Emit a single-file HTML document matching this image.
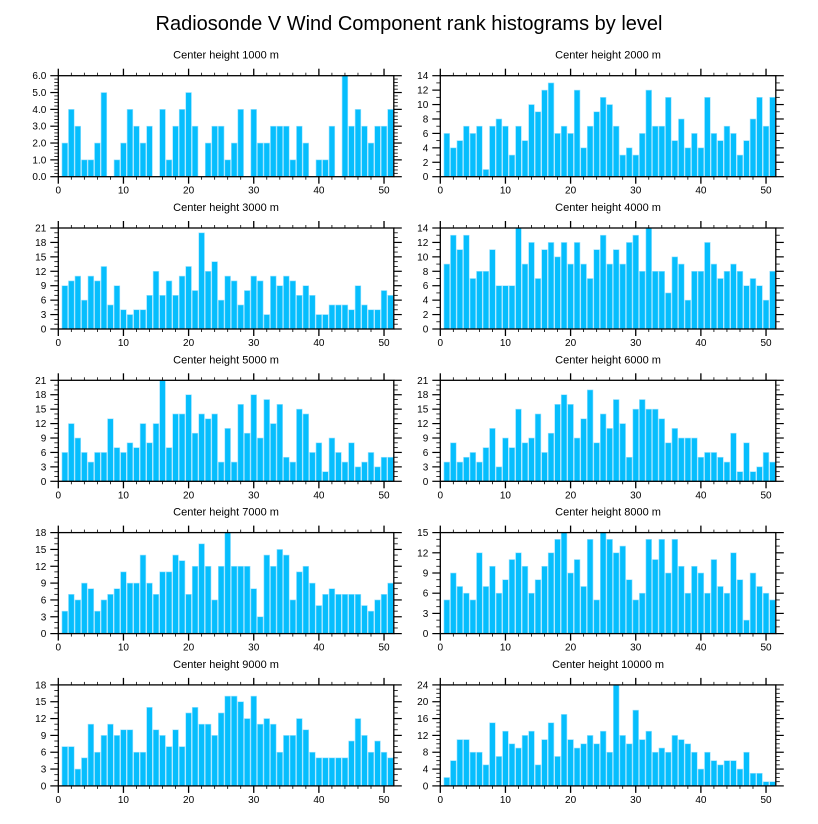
<!DOCTYPE html>
<html><head><meta charset="utf-8"><style>
body{margin:0;background:#fff;}
svg{display:block;font-family:"Liberation Sans",sans-serif;}
</style></head><body>
<svg id="chart" width="818" height="824" viewBox="0 0 818 824" xmlns="http://www.w3.org/2000/svg">
<text x="409" y="30" text-anchor="middle" font-size="20" fill="#000">Radiosonde V Wind Component rank histograms by level</text>
</svg>
<script>
const heights = [1000,2000,3000,4000,5000,6000,7000,8000,9000,10000];
const yMax = [6,14,21,14,21,21,18,15,18,24];
const yStep = [1,2,3,2,3,3,3,3,3,4];
const s1000 = [2,4,3,1,1,2,5,0,1,2,4,3,2,3,0,4,1,3,4,5,3,0,2,3,3,1,2,4,0,4,2,2,3,3,3,1,3,2,0,1,1,3,0,6,3,4,3,2,3,3,4];
const s2000 = [6,4,5,7,6,7,1,7,8,7,3,7,5,10,9,12,13,6,7,6,12,4,7,9,11,10,7,3,4,3,6,12,7,7,11,5,8,4,6,4,11,6,5,7,6,3,5,8,11,7,11];
const s3000 = [9,10,11,6,11,10,13,5,9,4,3,4,4,7,12,7,10,7,11,13,8,20,12,14,6,11,10,5,8,11,10,3,11,9,11,10,7,9,7,3,3,5,5,5,4,9,5,4,4,8,7];
const s4000 = [9,13,11,13,7,8,8,11,6,6,6,14,9,12,7,11,12,10,12,9,12,9,7,11,13,9,11,9,12,13,8,14,8,8,5,10,9,4,8,8,12,9,7,8,9,8,6,7,6,4,8];
const s5000 = [6,12,9,6,4,6,6,13,7,6,8,7,12,8,12,21,7,14,14,18,10,14,13,14,4,11,4,16,10,18,9,17,12,16,5,4,15,14,6,8,2,9,6,4,8,3,4,6,3,5,5];
const s6000 = [4,8,4,5,6,4,7,11,3,9,7,15,8,9,14,6,10,16,18,16,9,13,19,8,14,11,17,12,5,15,17,15,15,13,8,11,9,9,9,5,6,6,5,4,10,2,8,2,3,6,4];
const s7000 = [4,7,6,9,8,4,6,7,8,11,9,9,14,9,7,11,11,14,13,7,12,16,12,6,12,18,12,12,12,8,3,14,12,15,14,6,11,12,9,5,7,8,7,7,7,7,5,4,6,7,9];
const s8000 = [5,9,7,6,5,12,7,10,6,8,11,12,10,6,8,10,12,14,15,9,11,7,14,5,15,14,12,13,8,5,6,14,11,14,9,14,10,6,10,9,6,11,7,6,12,8,2,9,7,6,5];
const s9000 = [7,7,3,5,11,6,9,11,9,10,10,6,6,14,10,9,7,10,7,13,14,11,11,9,13,16,16,15,12,16,11,12,11,6,9,9,12,10,6,5,5,5,5,5,8,12,9,6,8,6,5];
const s10000 = [2,6,11,11,8,8,5,15,7,13,10,9,12,13,5,11,15,7,17,11,9,10,12,10,13,8,24,12,10,18,11,13,8,9,8,12,11,10,8,4,8,6,5,6,6,4,8,3,3,1,1];
const series = [s1000,s2000,s3000,s4000,s5000,s6000,s7000,s8000,s9000,s10000];
const xTicks = [0,10,20,30,40,50];

const svg = document.getElementById('chart');
const NS = 'http://www.w3.org/2000/svg';
function mk(tag, attrs, parent){const e=document.createElementNS(NS,tag);for(const k in attrs)e.setAttribute(k,attrs[k]);(parent||svg).appendChild(e);return e;}
const PW = 335.5, PH = 101, XMAX = 51.5;
for(let p=0;p<10;p++){
  const col=p%2,row=Math.floor(p/2);
  const L = col===0?58.3:440.3, T = 75.7+row*152.3;
  const g = mk('g',{});
  
  
  const xs = v=>L+v/XMAX*PW;
  const ys = v=>T+PH-v/yMax[p]*PH;
  const t = mk('text',{x:L+PW/2,y:T-17,'text-anchor':'middle','font-size':'11',fill:'#000'},g);
  t.textContent='Center height '+heights[p]+' m';
  
  
  const vals=series[p];
  for(let i=0;i<vals.length;i++){
    if(vals[i]<=0) continue;
    const x=i+1;
    const r=mk('rect',{x:xs(x-0.44),y:ys(vals[i]),width:xs(x+0.44)-xs(x-0.44),height:ys(0)-ys(vals[i]),fill:'#06befd',stroke:'#9ee3ff','stroke-width':'0.6'},g);
    
    
  }
  const fr=mk('rect',{x:L,y:T,width:PW,height:PH,fill:'none',stroke:'#000','stroke-width':'1.3'},g);
  
  
  // x ticks
  for(let v=0;v<=XMAX;v+=2){
    const major=v%10===0, len=major?7:3, X=xs(v);
    mk('line',{x1:X,x2:X,y1:T,y2:T-len,stroke:'#000','stroke-width':major?1.3:0.8},g);
    mk('line',{x1:X,x2:X,y1:T+PH,y2:T+PH+len,stroke:'#000','stroke-width':major?1.3:0.8},g);
  }
  xTicks.forEach(v=>{
    const tl=mk('text',{x:xs(v),y:T+PH+17,'text-anchor':'middle','font-size':'10',fill:'#000'},g);
    tl.textContent=v;
    
    
  });
  // y ticks
  const st=yStep[p], nMin = st===3?3:(st===2?2:(st===4?4:5));
  for(let k=0;k*st/nMin<=yMax[p]+1e-9;k++){
    const v=k*st/nMin, Y=ys(v), major=k%nMin===0;
    if(major){
      mk('line',{x1:L-8,x2:L,y1:Y,y2:Y,stroke:'#000','stroke-width':1.2},g);
      mk('line',{x1:L+PW,x2:L+PW+8,y1:Y,y2:Y,stroke:'#000','stroke-width':1.2},g);
      const yl=mk('text',{x:L-12,y:Y+3.5,'text-anchor':'end','font-size':'10',fill:'#000'},g);
      yl.textContent = p===0? v.toFixed(1) : Math.round(v);
      
      
    } else {
      mk('line',{x1:L-4,x2:L,y1:Y,y2:Y,stroke:'#000','stroke-width':0.8},g);
      mk('line',{x1:L+PW,x2:L+PW+4,y1:Y,y2:Y,stroke:'#000','stroke-width':0.8},g);
    }
  }
}
</script>
</body></html>
